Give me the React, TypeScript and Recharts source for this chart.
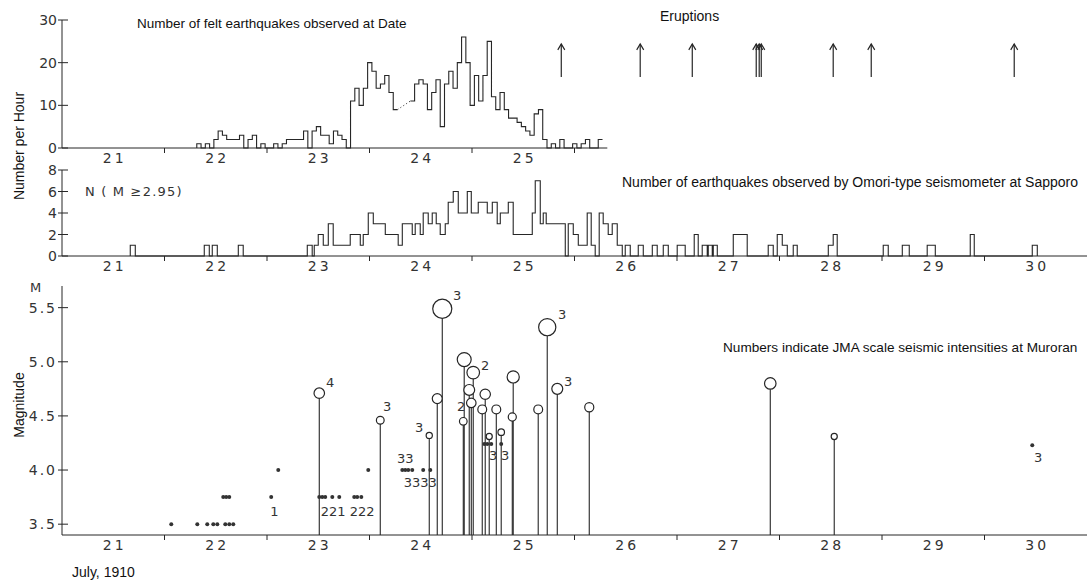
import React from 'react';
import { ComposedChart, Line, Scatter, XAxis, YAxis, ReferenceLine } from 'recharts';

const INK = '#262626';
const NUM_FONT = '"DejaVu Sans", sans-serif';
const TEXT_FONT = '"Liberation Sans", Arial, sans-serif';

// time axis in days of July 1910: a day label sits mid-day, the small ticks mark midnight
const DAY_DOMAIN: [number, number] = [20.5, 30.5];
const dayLabels = [21, 22, 23, 24, 25, 26, 27, 28, 29, 30];
const midnightTicks = [21.5, 22.5, 23.5, 24.5, 25.5, 26.5, 27.5, 28.5, 29.5];
const feltDayLabels = [21, 22, 23, 24, 25];
const feltMidnightTicks = [21.5, 22.5, 23.5, 24.5, 25.5];
const FELT_AXIS_END = 25.82;

// felt earthquakes per hour at Date; the first hour starts at FELT_START, null = not recorded
const FELT_START = 21.815;
const feltCounts: (number | null)[] = [
  1, 0, 1, 0, 2, 4, 3, 2, 2, 2, 3, 0, 2, 3, 0, 1, 0, 0, 1, 0, 1, 2, 2, 2, 2, 4, 0, 4, 5, 3,
  3, 1, 4, 3, 2, 0, 11, 14, 10, 14, 20, 18, 14, 15, 17, 13, 9, null, null, null, 11, 15, 16, 15, 9, 13, 16, 5, 15, 18,
  14, 20, 26, 20, 10, 17, 11, 17, 25, 12, 9, 13, 9, 7, 7, 6, 5, 4, 3, 8, 9, 2, 0, 1, 0, 2, 0, 0, 1, 0,
  1, 2, 0, 0, 2,
];

// eruptions (arrows)
const eruptionTimes = [25.371, 26.141, 26.649, 27.273, 27.302, 27.322, 28.024, 28.395, 29.79];
const ARROW_TIP = 24.4;

// Omori seismometer at Sapporo, N(M >= 2.95): each count holds from its time to the next time
const sapporoTimes = [
  21.166, 21.215, 21.888, 21.937, 21.966, 22.015, 22.22, 22.268, 22.893, 22.941,
  22.961, 23.0, 23.049, 23.098, 23.146, 23.312, 23.41, 23.439, 23.488, 23.537,
  23.654, 23.78, 23.82, 23.917, 23.946, 23.995, 24.024, 24.073, 24.112, 24.151,
  24.19, 24.239, 24.268, 24.317, 24.366, 24.454, 24.493, 24.561, 24.649, 24.698,
  24.746, 24.776, 24.854, 24.902, 25.088, 25.117, 25.166, 25.195, 25.224, 25.41,
  25.439, 25.488, 25.537, 25.624, 25.663, 25.702, 25.741, 25.78, 25.829, 25.868,
  25.917, 25.966, 25.995, 26.044, 26.122, 26.171, 26.259, 26.307, 26.366, 26.415,
  26.502, 26.58, 26.668, 26.707, 26.746, 26.795, 26.805, 26.844, 26.854, 26.893,
  27.049, 27.185, 27.39, 27.439, 27.478, 27.527, 27.576, 27.634, 27.673, 27.976,
  28.024, 28.063, 28.512, 28.561, 28.698, 28.766, 28.941, 29.02, 29.361, 29.4,
  29.966, 30.015,
];
const sapporoCounts = [
  1, 0, 1, 0, 1, 0, 1, 0, 1, 0,
  1, 2, 1, 3, 1, 2, 1, 2, 4, 3,
  2, 1, 3, 2, 3, 2, 4, 3, 4, 3,
  2, 3, 5, 6, 4, 6, 4, 5, 4, 5,
  3, 4, 5, 2, 4, 7, 3, 4, 3, 0,
  3, 2, 1, 4, 1, 0, 4, 3, 2, 3,
  1, 0, 1, 0, 1, 0, 1, 0, 1, 0,
  1, 0, 2, 0, 1, 0, 1, 0, 1, 0,
  2, 0, 1, 0, 2, 1, 0, 1, 0, 1,
  2, 0, 1, 0, 1, 0, 1, 0, 2, 0,
  1, 0,
];

// [day, magnitude]: shocks drawn with a stem and a circle sized by M
const largeShocks: [number, number][] = [
  [23.01, 4.71], [23.605, 4.46], [24.083, 4.32], [24.161, 4.66], [24.21, 5.49],
  [24.415, 4.45], [24.424, 5.02], [24.473, 4.74], [24.493, 4.62], [24.512, 4.9],
  [24.6, 4.56], [24.629, 4.7], [24.668, 4.31], [24.737, 4.56], [24.785, 4.35],
  [24.893, 4.49], [24.902, 4.86], [25.146, 4.56], [25.234, 5.32], [25.332, 4.75],
  [25.644, 4.58], [27.41, 4.8], [28.034, 4.31],
];
// [day, magnitude]: smaller shocks drawn as dots
const smallShocks: [number, number][] = [
  [21.566, 3.5], [21.82, 3.5], [21.917, 3.5], [21.976, 3.5], [22.015, 3.5], [22.093, 3.5], [22.132, 3.5], [22.171, 3.5],
  [22.073, 3.75], [22.102, 3.75], [22.132, 3.75], [22.541, 3.75], [22.61, 4.0],
  [23.01, 3.75], [23.039, 3.75], [23.068, 3.75], [23.137, 3.75], [23.205, 3.75],
  [23.351, 3.75], [23.38, 3.75], [23.42, 3.75], [23.488, 4.0],
  [23.82, 4.0], [23.849, 4.0], [23.878, 4.0], [23.917, 4.0], [24.024, 4.0], [24.093, 4.0],
  [24.62, 4.24], [24.649, 4.24], [24.688, 4.24], [24.785, 4.24], [29.966, 4.23],
];
// [day, magnitude, text]: JMA intensity at Muroran written beside the shocks
const intensityLabels: [number, number, string][] = [
  [23.117, 4.815, '4'], [23.673, 4.59, '3'], [22.571, 3.62, '1'], [23.146, 3.62, '221'],
  [23.429, 3.62, '222'], [23.849, 4.11, '33'], [23.995, 3.89, '3333'], [23.985, 4.4, '3'],
  [24.356, 5.62, '3'], [24.629, 4.97, '2'], [24.395, 4.59, '2'], [24.707, 4.14, '3'],
  [24.824, 4.14, '3'], [25.38, 5.44, '3'], [25.439, 4.82, '3'], [30.024, 4.12, '3'],
];

const feltTicks = [...feltDayLabels, ...feltMidnightTicks].sort((a, b) => a - b);
const allTicks = [...dayLabels, ...midnightTicks].sort((a, b) => a - b);

// hourly bins as flat steps, broken where the record is missing
const feltLine: { t: number; v: number | null }[] = [{ t: FELT_START, v: 0 }];
feltCounts.forEach((n, i) => {
  const t0 = FELT_START + i / 24;
  if (n === null) feltLine.push({ t: t0, v: null });
  else feltLine.push({ t: t0, v: n }, { t: t0 + 1 / 24, v: n });
});
const gapFirst = feltCounts.indexOf(null);
const gapLast = feltCounts.lastIndexOf(null);
const feltGap = [
  { t: FELT_START + gapFirst / 24, v: feltCounts[gapFirst - 1] },
  { t: FELT_START + (gapLast + 1) / 24, v: feltCounts[gapLast + 1] },
];

const eruptionPoints = eruptionTimes.map((t) => ({ t, v: ARROW_TIP }));
const sapporoLine = [{ t: sapporoTimes[0], v: 0 }, ...sapporoTimes.map((t, i) => ({ t, v: sapporoCounts[i] }))];
const largePoints = largeShocks.map(([t, v]) => ({ t, v }));
const smallPoints = smallShocks.map(([t, v]) => ({ t, v }));
const labelPoints = intensityLabels.map(([t, v, label]) => ({ t, v, label }));

// magnitude panel geometry, used to stop each stem at the bottom of its circle
const MAG_DOMAIN: [number, number] = [3.4, 5.7];
const MAG_HEIGHT = 305;
const MAG_TOP = 6;
const MAG_AXIS_H = 50;
const magPxPerUnit = (MAG_HEIGHT - MAG_TOP - MAG_AXIS_H) / (MAG_DOMAIN[1] - MAG_DOMAIN[0]);
const ringRadius = (m: number) => 3 + (m - 4.3) * 5.5;

const DayTick = ({ x, y, payload }: any) => {
  const v = payload.value;
  if (Number.isInteger(v)) {
    return (
      <text x={x} y={y + 15} dx={1.5} textAnchor="middle" fontSize={14} fontFamily={NUM_FONT} fill="#333" letterSpacing={3}>
        {v}
      </text>
    );
  }
  return <line x1={x} x2={x} y1={y} y2={y + 5} stroke={INK} />;
};

const makeValueTick = (digits: number, spacing: number) => ({ x, y, payload }: any) => (
  <g>
    <text x={x - 5} y={y} dy={5} textAnchor="end" fontSize={14} fontFamily={NUM_FONT} fill="#333" letterSpacing={spacing}>
      {Number(payload.value).toFixed(digits)}
    </text>
    <line x1={x - 4} x2={x + 6} y1={y} y2={y} stroke={INK} />
  </g>
);
const CountTick = makeValueTick(0, 0);
const MagTick = makeValueTick(1, 2);

const EruptionArrow = ({ cx, cy }: any) => (
  <g stroke={INK} fill="none" strokeWidth={1.2}>
    <line x1={cx} x2={cx} y1={cy} y2={cy + 33} />
    <path d={`M${cx - 3.5},${cy + 6} L${cx},${cy} L${cx + 3.5},${cy + 6}`} />
  </g>
);

const Ring = ({ cx, cy, payload }: any) => (
  <circle cx={cx} cy={cy} r={ringRadius(payload.v)} fill="#fff" stroke={INK} strokeWidth={1.2} />
);
const Dot = ({ cx, cy }: any) => <circle cx={cx} cy={cy} r={2} fill="#333" />;
const IntensityText = ({ cx, cy, payload }: any) => (
  <text x={cx} y={cy} dy={5} textAnchor="middle" fontSize={13} fontFamily={NUM_FONT} fill="#333">
    {payload.label}
  </text>
);

const margin = (top: number) => ({ top, right: 3, bottom: 0, left: 0 });

export default function App() {
  return (
    <div style={{ position: 'absolute', left: 0, top: 0, width: 1090, height: 585, background: '#fff', overflow: 'hidden' }}>
      <div style={{ position: 'absolute', left: 0, top: 0 }}>
        <ComposedChart width={1090} height={165} margin={margin(20)}>
          <XAxis type="number" dataKey="t" domain={DAY_DOMAIN} ticks={feltTicks} interval={0} tick={<DayTick />}
            tickLine={false} axisLine={false} tickSize={0} tickMargin={0} height={17} allowDataOverflow />
          <YAxis type="number" dataKey="v" domain={[0, 30]} ticks={[0, 10, 20, 30]} interval={0} width={62}
            tick={<CountTick />} tickLine={false} axisLine={{ stroke: INK }} tickSize={0} tickMargin={0} />
          <ReferenceLine segment={[{ x: DAY_DOMAIN[0], y: 0 }, { x: FELT_AXIS_END, y: 0 }]} stroke={INK} />
          <Line data={feltLine} dataKey="v" type="linear" stroke={INK} strokeWidth={1.1} dot={false}
            connectNulls={false} isAnimationActive={false} />
          <Line data={feltGap} dataKey="v" type="linear" stroke={INK} strokeDasharray="1 2.5" dot={false}
            isAnimationActive={false} />
          <Scatter data={eruptionPoints} dataKey="v" shape={<EruptionArrow />} isAnimationActive={false} />
        </ComposedChart>
      </div>

      <div style={{ position: 'absolute', left: 0, top: 158 }}>
        <ComposedChart width={1090} height={122} margin={margin(12)}>
          <XAxis type="number" dataKey="t" domain={DAY_DOMAIN} ticks={allTicks} interval={0} tick={<DayTick />}
            tickLine={false} axisLine={{ stroke: INK }} tickSize={0} tickMargin={0} height={24} allowDataOverflow />
          <YAxis type="number" dataKey="v" domain={[0, 8]} ticks={[0, 2, 4, 6, 8]} interval={0} width={62}
            tick={<CountTick />} tickLine={false} axisLine={{ stroke: INK }} tickSize={0} tickMargin={0} />
          <Line data={sapporoLine} dataKey="v" type="stepAfter" stroke={INK} strokeWidth={1.1} dot={false}
            isAnimationActive={false} />
        </ComposedChart>
      </div>

      <div style={{ position: 'absolute', left: 0, top: 280 }}>
        <ComposedChart width={1090} height={MAG_HEIGHT} margin={margin(MAG_TOP)}>
          <XAxis type="number" dataKey="t" domain={DAY_DOMAIN} ticks={allTicks} interval={0} tick={<DayTick />}
            tickLine={false} axisLine={{ stroke: INK }} tickSize={0} tickMargin={0} height={MAG_AXIS_H} allowDataOverflow />
          <YAxis type="number" dataKey="v" domain={MAG_DOMAIN} ticks={[3.5, 4.0, 4.5, 5.0, 5.5]} interval={0} width={62}
            tick={<MagTick />} tickLine={false} axisLine={{ stroke: INK }} tickSize={0} tickMargin={0} allowDataOverflow />
          {largeShocks.map(([t, m]) => (
            <ReferenceLine key={`stem-${t}`}
              segment={[{ x: t, y: MAG_DOMAIN[0] }, { x: t, y: m - ringRadius(m) / magPxPerUnit }]}
              stroke={INK} strokeWidth={1.1} />
          ))}
          <Scatter data={smallPoints} dataKey="v" shape={<Dot />} isAnimationActive={false} />
          <Scatter data={largePoints} dataKey="v" shape={<Ring />} isAnimationActive={false} />
          <Scatter data={labelPoints} dataKey="v" shape={<IntensityText />} isAnimationActive={false} />
        </ComposedChart>
      </div>

      <svg width={1090} height={585} style={{ position: 'absolute', left: 0, top: 0, pointerEvents: 'none' }}>
        <g fontFamily={TEXT_FONT} fontSize={14} fill="#111">
          <text x={137} y={28} fontSize={13.5}>Number of felt earthquakes observed at Date</text>
          <text x={660} y={21}>Eruptions</text>
          <text x={622} y={187}>Number of earthquakes observed by Omori-type seismometer at Sapporo</text>
          <text x={723} y={352} fontSize={13.6}>Numbers indicate JMA scale seismic intensities at Muroran</text>
          <text x={72} y={577}>July, 1910</text>
          <text transform="translate(24,146) rotate(-90)" textAnchor="middle">Number per Hour</text>
          <text transform="translate(24,405) rotate(-90)" textAnchor="middle">Magnitude</text>
        </g>
        <g fontFamily={NUM_FONT} fontSize={13} fill="#333">
          <text x={85} y={196} letterSpacing={1.2}>N ( M ≥2.95)</text>
          <text x={30} y={292}>M</text>
        </g>
      </svg>
    </div>
  );
}
